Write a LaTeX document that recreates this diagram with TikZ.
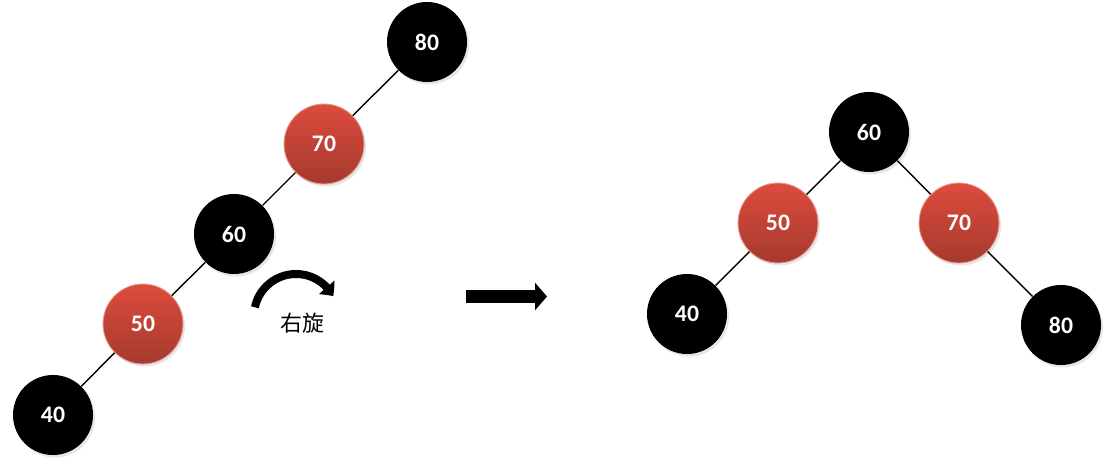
\documentclass[tikz,border=0pt]{standalone}
\usepackage{fontspec}
\setmainfont{Carlito}
\newfontfamily\cjk{Noto Sans CJK SC}
\usetikzlibrary{positioning, arrows.meta, bending, shadows}
\definecolor{redtop}{HTML}{DC4C3D}
\definecolor{redbot}{HTML}{A6392E}
\definecolor{redrim}{HTML}{E8998E}
\tikzstyle{treenode} = [circle, minimum size=1.6cm, inner sep=0pt, text=white, font=\fontsize{13.5}{16}\selectfont\bfseries, drop shadow={opacity=0.2, shadow xshift=0.04cm, shadow yshift=-0.05cm}]
\tikzstyle{blacknode} = [treenode, fill=black]
\tikzstyle{rednode} = [treenode, top color=redtop, bottom color=redbot, draw=redrim, line width=0.5pt]
\tikzstyle{edge} = [line width=0.8pt]
\tikzstyle{bigarrow} = [line width=0.26cm, -{Triangle[length=0.24cm, width=0.54cm]}]
\tikzstyle{turnarrow} = [line width=0.16cm, -{Triangle[length=0.22cm, width=0.4cm, bend]}]

\begin{document}
\begin{tikzpicture}[node distance=1.8cm and 1.8cm, on grid]
\useasboundingbox (0,0) rectangle (22.2,-9.22);
% left tree, before rotation
\node (l80) [blacknode] at (8.54,-0.84) {80};
\node (l70) [rednode, below left=2.04cm and 2.06cm of l80] {70};
\node (l60) [blacknode, below left=1.8cm and 1.8cm of l70] {60};
\node (l50) [rednode, below left=1.8cm and 1.82cm of l60] {50};
\node (l40) [blacknode, below left=1.82cm and 1.8cm of l50] {40};
\draw[edge] (l80) -- (l70);
\draw[edge] (l70) -- (l60);
\draw[edge] (l60) -- (l50);
\draw[edge] (l50) -- (l40);
% rotation mark
\coordinate (rotc) at (5.92,-6.32);
\draw[turnarrow] ([shift={(168:0.84)}]rotc) arc[start angle=168, end angle=28, radius=0.84];
\node (rotlabel) at (6.04,-6.46) {\cjk\fontsize{12.5}{15}\selectfont 右旋};
% arrow between the trees
\coordinate (arrstart) at (9.32,-5.93);
\coordinate (arrend) at (10.94,-5.93);
\draw[bigarrow] (arrstart) -- (arrend);
% right tree, after rotation
\node (r60) [blacknode] at (17.38,-2.64) {60};
\node (r50) [rednode, below left=1.82cm and 1.82cm of r60] {50};
\node (r70) [rednode, below right=1.82cm and 1.8cm of r60] {70};
\node (r40) [blacknode, below left=1.82cm and 1.82cm of r50] {40};
\node (r80) [blacknode, below right=2.04cm and 2.04cm of r70] {80};
\draw[edge] (r60) -- (r50);
\draw[edge] (r60) -- (r70);
\draw[edge] (r50) -- (r40);
\draw[edge] (r70) -- (r80);
\end{tikzpicture}
\end{document}
